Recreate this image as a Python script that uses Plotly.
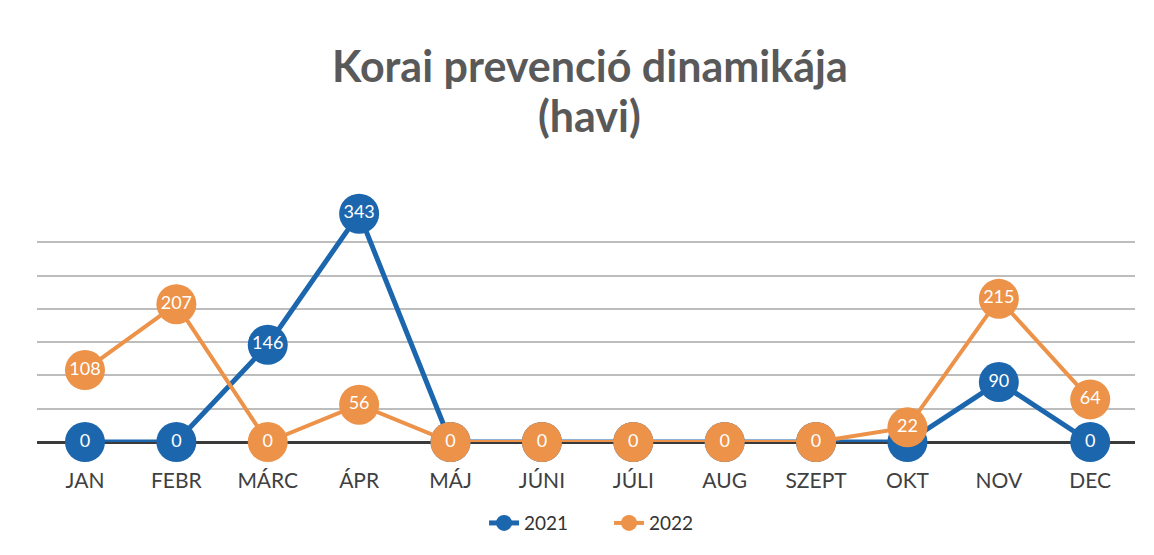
import plotly.graph_objects as go

months = ["JAN", "FEBR", "MÁRC", "ÁPR", "MÁJ", "JÚNI", "JÚLI", "AUG", "SZEPT", "OKT", "NOV", "DEC"]
values_2021 = [0, 0, 146, 343, 0, 0, 0, 0, 0, 0, 90, 0]
values_2022 = [108, 207, 0, 56, 0, 0, 0, 0, 0, 22, 215, 64]
title_lines = ["Korai prevenció dinamikája", "(havi)"]

blue = "#1C66AE"
orange = "#EC9249"
font_family = "Lato, Carlito, 'Open Sans', sans-serif"

# 2021 labels hidden where the 2022 marker fully covers the 2021 marker (both zero)
text_2021 = ["" if (a == 0 and b == 0 and i >= 2) else str(a)
             for i, (a, b) in enumerate(zip(values_2021, values_2022))]
text_2022 = [str(v) for v in values_2022]

fig = go.Figure()
fig.add_trace(go.Scatter(
    x=months, y=values_2021, name="2021",
    mode="lines+markers+text",
    line=dict(color=blue, width=5),
    marker=dict(color=blue, size=40),
    text=text_2021, textposition="middle center",
    textfont=dict(color="white", size=18, family=font_family),
    cliponaxis=False,
))
fig.add_trace(go.Scatter(
    x=months, y=values_2022, name="2022",
    mode="lines+markers+text",
    line=dict(color=orange, width=4),
    marker=dict(color=orange, size=40),
    text=text_2022, textposition="middle center",
    textfont=dict(color="white", size=18, family=font_family),
    cliponaxis=False,
))

annotations = []
for line, ypos in zip(title_lines, [1.618, 1.403]):
    annotations.append(dict(
        text="<b>" + line + "</b>", xref="paper", yref="paper",
        x=0.5036, y=ypos, xanchor="center", yanchor="middle", showarrow=False,
        font=dict(family=font_family, size=43, color="#595959"),
    ))

fig.update_layout(
    width=1146, height=547,
    margin=dict(l=29, r=19, t=201, b=113),
    paper_bgcolor="white", plot_bgcolor="white",
    annotations=annotations,
    xaxis=dict(
        type="category", range=[-0.525, 11.49],
        showgrid=False, showline=False,
        ticks="outside", ticklen=20, tickcolor="rgba(0,0,0,0)",
        tickfont=dict(family=font_family, size=21, color="#404040"),
    ),
    yaxis=dict(
        range=[0, 350], dtick=50, showticklabels=False,
        showgrid=True, gridcolor="#BDBDBD", gridwidth=1.5,
        zeroline=True, zerolinecolor="#3A3A3A", zerolinewidth=3,
    ),
    legend=dict(
        orientation="h", x=0.521, xanchor="center", y=-0.348, yanchor="middle",
        font=dict(family=font_family, size=19, color="#333333"),
        entrywidth=80, entrywidthmode="pixels",
    ),
    showlegend=True,
)

fig.write_html("out.html")
